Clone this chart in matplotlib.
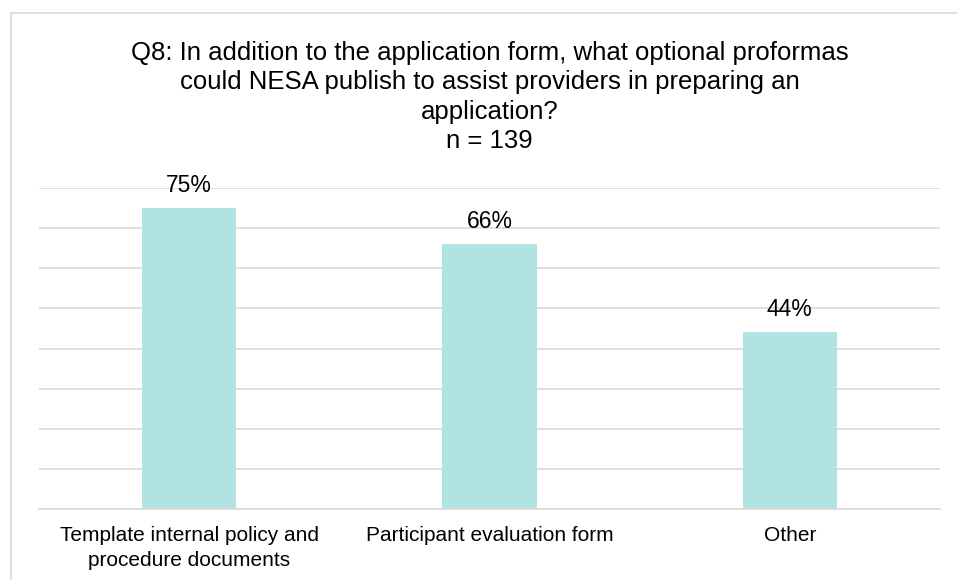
import matplotlib
matplotlib.use("Agg")
import matplotlib.pyplot as plt
from matplotlib.patches import Rectangle

plt.rcParams['font.family'] = ['Liberation Sans', 'DejaVu Sans']

categories = ["Template internal policy and\nprocedure documents",
              "Participant evaluation form",
              "Other"]
values = [75, 66, 44]
title = ("Q8: In addition to the application form, what optional proformas\n"
         "could NESA publish to assist providers in preparing an\n"
         "application?\n"
         "n = 139")

W, H = 957, 580
fig = plt.figure(figsize=(W / 100, H / 100), dpi=100)

# chart-area border (top and left edges visible)
fig.patches.append(Rectangle((10.5 / W, -0.1), 2.0, 1.1 - 12.5 / H,
                             transform=fig.transFigure, fill=False,
                             edgecolor="#d9d9d9", linewidth=1.2))

ax = fig.add_axes([39 / W, 1 - 509 / H, 901 / W, (509 - 188) / H])
x = list(range(len(categories)))
ax.bar(x, values, width=0.313, color="#b1e3e3", zorder=2)

ax.set_xlim(-0.5, len(categories) - 0.5)
ax.set_ylim(0, 80)
ax.set_yticks(range(0, 81, 10))
ax.yaxis.grid(True, color="#d9d9d9", linewidth=1.2, zorder=0)
ax.tick_params(axis="y", length=0, labelleft=False)
ax.tick_params(axis="x", length=0, pad=12.5)
ax.set_xticks(x)
ax.set_xticklabels(categories, fontsize=15, color="#000000", linespacing=1.35)
for s in ["top", "right", "left"]:
    ax.spines[s].set_visible(False)
ax.spines["bottom"].set_color("#d9d9d9")
ax.spines["bottom"].set_linewidth(1.2)
ax.set_axisbelow(True)

for xi, v in zip(x, values):
    ax.annotate(f"{v}%", (xi, v), xytext=(0, 16), textcoords="offset pixels",
                ha="center", va="baseline", fontsize=16.5, color="#000000")

fig.text(489.5 / W, 1 - 41 / H, title, ha="center", va="top",
         fontsize=18.5, linespacing=1.28, color="#000000")

fig.savefig("out.png", dpi=100, facecolor="white")
